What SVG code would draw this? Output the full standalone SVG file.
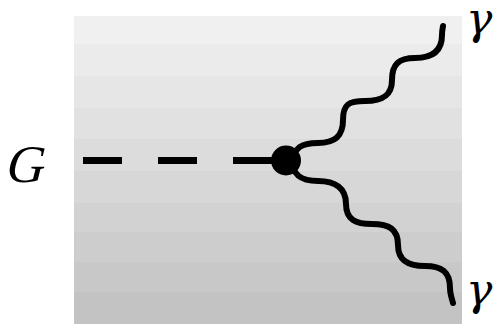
<svg xmlns="http://www.w3.org/2000/svg" width="497" height="324" viewBox="0 0 497 324">
<style>
.photon{fill:none;stroke:#000;stroke-width:6;stroke-linecap:round}
</style>
<rect x="0" y="0" width="497" height="324" fill="#fff"/>
<g id="background">
<rect x="74" y="16" width="388" height="28" fill="#f0f0f0"/>
<rect x="74" y="44" width="388" height="32" fill="#ebebeb"/>
<rect x="74" y="76" width="388" height="32" fill="#e6e6e6"/>
<rect x="74" y="108" width="388" height="31" fill="#e1e1e1"/>
<rect x="74" y="139" width="388" height="32" fill="#dcdcdc"/>
<rect x="74" y="171" width="388" height="32" fill="#d7d7d7"/>
<rect x="74" y="203" width="388" height="29" fill="#d2d2d2"/>
<rect x="74" y="232" width="388" height="30" fill="#cdcdcd"/>
<rect x="74" y="262" width="388" height="30" fill="#c8c8c8"/>
<rect x="74" y="292" width="388" height="32" fill="#c3c3c3"/>
</g>
<g id="connectors">
<line id="scalar" x1="83" y1="160.5" x2="272" y2="160.5" stroke="#000" stroke-width="7" stroke-dasharray="39 36"/>
<path id="photon-up" class="photon" d="M293,164 C293,147 302,143 318,143 C335,143 343,136 343,120 C343,104 349,101 365,101 C382,101 392,96 392,80 C392,64 399,58 415,58 C432,58 442,51 442,35 C442,31 442.5,29 443,26"/>
<path id="photon-down" class="photon" d="M292,159 C292,176 302,181 318,181 C335,181 346,188 346,204 C346,220 356,224 372,224 C389,224 398,229 398,245 C398,261 409,266 425,266 C442,266 450,272 450,288 C450,294 452,299 453,303"/>
</g>
<g id="vertex"><circle cx="286" cy="160.5" r="15" fill="#000"/></g>
<g id="label-G"><text transform="translate(4,182) skewX(-14)" font-size="53" font-family="Liberation Serif, serif" fill="#000">G</text></g>
<g id="label-gamma-top"><text x="466" y="34" font-size="44" font-family="DejaVu Serif, serif" font-style="italic" fill="#000">γ</text></g>
<g id="label-gamma-bottom"><text x="466" y="305" font-size="44" font-family="DejaVu Serif, serif" font-style="italic" fill="#000">γ</text></g>
</svg>
